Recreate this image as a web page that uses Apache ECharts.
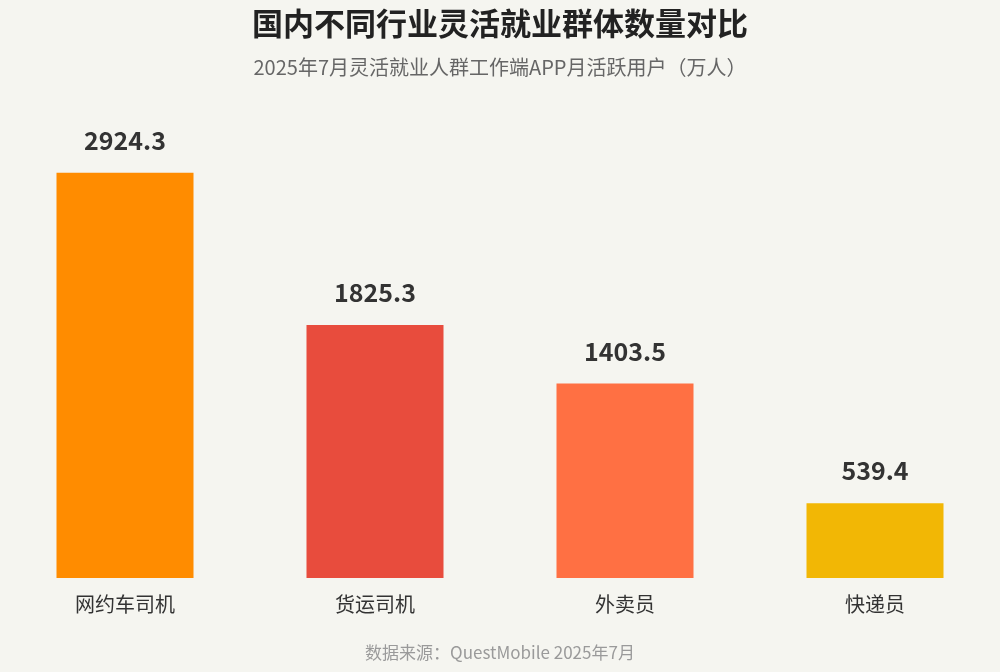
<!DOCTYPE html>
<html>
<head>
<meta charset="utf-8">
<script src="https://cdn.jsdelivr.net/npm/echarts@6/dist/echarts.min.js"></script>
<style>
html,body{margin:0;padding:0;background:#f5f5f0;}
#main{width:1000px;height:672px;}
</style>
</head>
<body>
<div id="main"></div>
<script>
var categories = ['网约车司机', '货运司机', '外卖员', '快递员'];
var values = [2924.3, 1825.3, 1403.5, 539.4];
var barColors = ['#ff8c00', '#e84c3d', '#ff7043', '#f2b705'];

var seriesData = [];
for (var i = 0; i < values.length; i++) {
  seriesData.push({
    value: values[i],
    itemStyle: { color: barColors[i] }
  });
}

var chart = echarts.init(document.getElementById('main'));
chart.setOption({
  backgroundColor: '#f5f5f0',
  textStyle: { fontFamily: '"Noto Sans CJK SC", "Noto Sans", sans-serif' },
  title: [{
    text: '国内不同行业灵活就业群体数量对比',
    left: 'center',
    top: 3,
    textStyle: { fontSize: 31, fontWeight: 'bold', color: '#222' }
  }, {
    text: '2025年7月灵活就业人群工作端APP月活跃用户（万人）',
    left: 'center',
    top: 52,
    textStyle: { fontSize: 20, fontWeight: 'normal', color: '#666' }
  }, {
    text: '数据来源：QuestMobile 2025年7月',
    left: 'center',
    top: 639,
    textStyle: { fontSize: 17, fontWeight: 'normal', color: '#9a9a9a' }
  }],
  grid: { left: -2, width: 1004, top: 93, bottom: 94 },
  xAxis: {
    type: 'category',
    data: categories,
    axisLine: { show: false },
    axisTick: { show: false },
    axisLabel: { fontSize: 20, color: '#333', margin: 16 }
  },
  yAxis: {
    type: 'value',
    min: 0,
    max: 3500,
    show: false,
    splitLine: { show: false }
  },
  series: [{
    type: 'bar',
    data: seriesData,
    barWidth: 137,
    label: {
      show: true,
      position: 'top',
      distance: 20,
      fontSize: 25,
      fontWeight: 'bold',
      color: '#333',
      formatter: function (p) { return p.value.toFixed(1); }
    }
  }]
});
</script>
</body>
</html>
